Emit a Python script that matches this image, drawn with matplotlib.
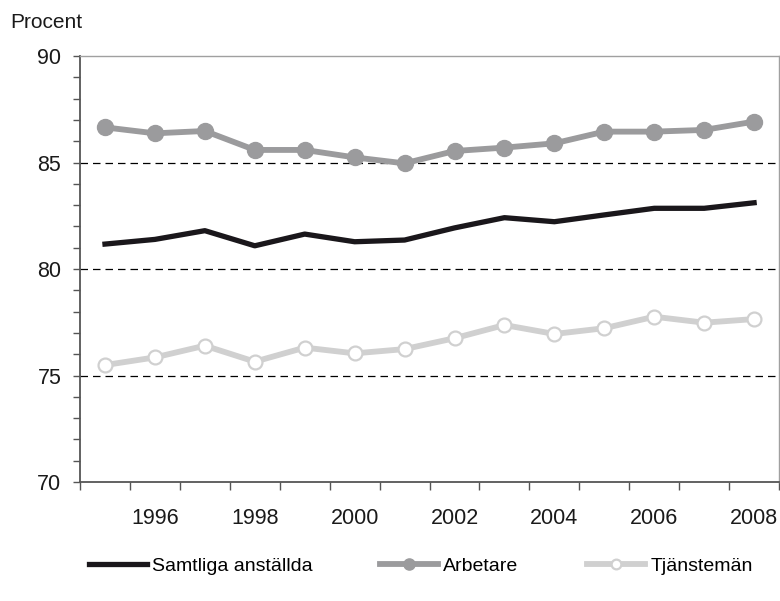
import numpy as np
import matplotlib.pyplot as plt
from matplotlib.ticker import FixedLocator, NullFormatter

plt.rcParams['font.family'] = ['Liberation Sans', 'DejaVu Sans']

# ------------------------------------------------------------
# Data
# ------------------------------------------------------------
years = [1995, 1996, 1997, 1998, 1999, 2000, 2001,
         2002, 2003, 2004, 2005, 2006, 2007, 2008]

samtliga = [81.17, 81.39, 81.80, 81.09, 81.64, 81.28, 81.36,
            81.93, 82.41, 82.22, 82.54, 82.85, 82.85, 83.11]

arbetare = [86.65, 86.37, 86.48, 85.59, 85.59, 85.24, 84.96,
            85.54, 85.70, 85.90, 86.45, 86.45, 86.53, 86.92]

tjansteman = [75.49, 75.85, 76.40, 75.65, 76.31, 76.04, 76.24,
              76.75, 77.37, 76.95, 77.22, 77.76, 77.48, 77.65]

year_labels = ["1996", "1998", "2000", "2002", "2004", "2006", "2008"]
label_years = [1996, 1998, 2000, 2002, 2004, 2006, 2008]

# ------------------------------------------------------------
# Figure
# ------------------------------------------------------------
fig = plt.figure(figsize=(7.8, 6.01), dpi=100)
ax = fig.add_axes([0.1026, 0.198, 0.8962, 0.7088])

for y in [75, 80, 85]:
    ax.axhline(y, color="black", lw=0.9, ls=(0, (6, 4)), zorder=1)

l_tj, = ax.plot(years, tjansteman, color="#d0d0d0", lw=4.2, marker="o",
                ms=10, mfc="white", mec="#d0d0d0", mew=1.6,
                label="Tjänstemän", zorder=3)
l_arb, = ax.plot(years, arbetare, color="#9b9b9d", lw=4.2, marker="o",
                 ms=11.5, mfc="#9b9b9d", mec="#9b9b9d",
                 label="Arbetare", zorder=3)
l_sam, = ax.plot(years, samtliga, color="#1a171b", lw=3.8,
                 label="Samtliga anställda", zorder=4)

ax.set_xlim(1994.5, 2008.5)
ax.set_ylim(70, 90)

# x: ticks at category boundaries, labels at even years
ax.xaxis.set_major_locator(FixedLocator(np.arange(1994.5, 2009, 1)))
ax.xaxis.set_major_formatter(NullFormatter())
ax.xaxis.set_minor_locator(FixedLocator(label_years))
ax.set_xticklabels(year_labels, minor=True)
ax.tick_params(axis="x", which="major", direction="out", length=6,
               width=1, color="#555555")
ax.tick_params(axis="x", which="minor", length=0, pad=18.5,
               labelsize=15.5, labelcolor="#1a1a1a")

# y: labels every 5, ticks every 1
ax.set_yticks([70, 75, 80, 85, 90])
ax.yaxis.set_minor_locator(FixedLocator(np.arange(70, 91, 1)))
ax.tick_params(axis="y", which="both", direction="out", length=5,
               width=1, color="#555555")
ax.tick_params(axis="y", which="major", labelsize=15.5, pad=8.5,
               labelcolor="#1a1a1a")

for side in ["top", "right"]:
    ax.spines[side].set_color("#a0a0a0")
    ax.spines[side].set_linewidth(1.0)
for side in ["left", "bottom"]:
    ax.spines[side].set_color("#555555")
    ax.spines[side].set_linewidth(1.3)

fig.text(0.013, 0.963, "Procent", fontsize=15, color="#1a1a1a",
         ha="left", va="center")

# legend entries placed like the original (one legend per entry)
for handle, x0 in [(l_sam, 89), (l_arb, 380), (l_tj, 587)]:
    leg = fig.legend([handle], [handle.get_label()], loc="center left",
                     bbox_to_anchor=(x0 / 780, 0.058), frameon=False,
                     fontsize=14, handlelength=3.0, handletextpad=0.25,
                     borderpad=0, borderaxespad=0, markerscale=0.7)

fig.savefig("out.png", dpi=100)
